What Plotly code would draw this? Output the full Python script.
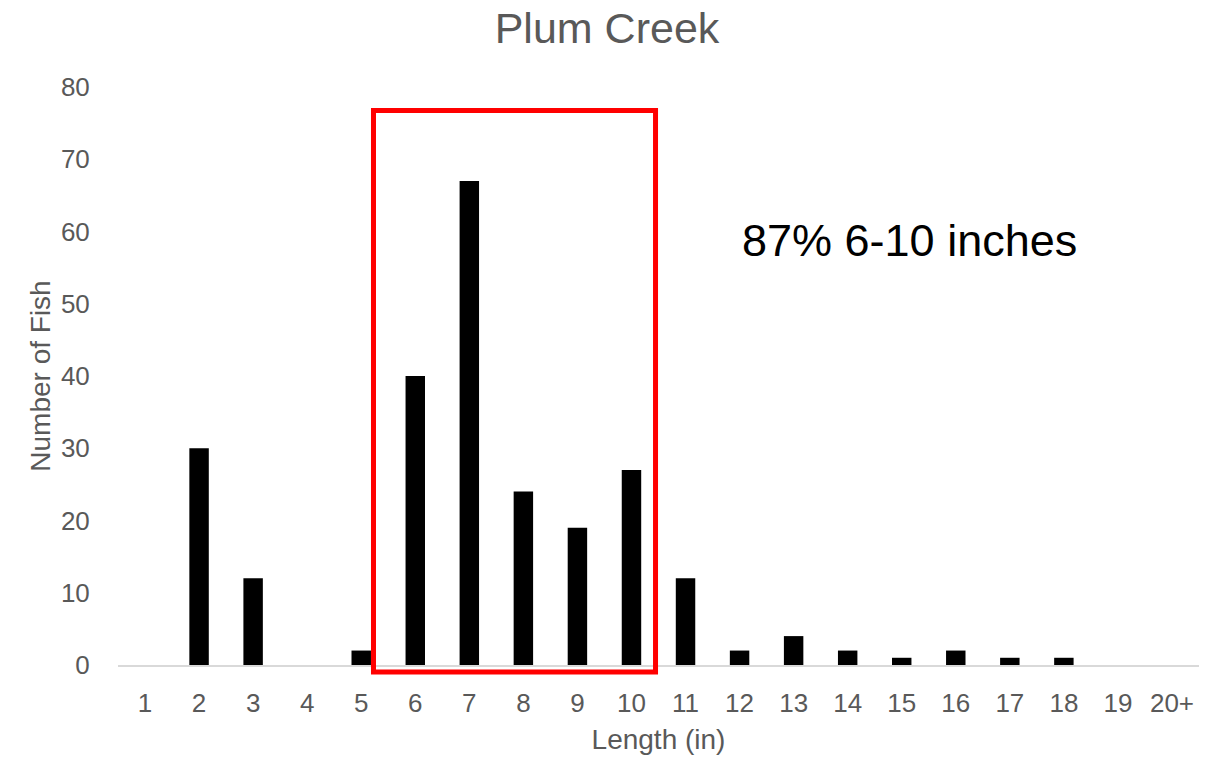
import plotly.graph_objects as go

# Length-frequency data for Plum Creek
lengths = ["1", "2", "3", "4", "5", "6", "7", "8", "9", "10",
           "11", "12", "13", "14", "15", "16", "17", "18", "19", "20+"]
fish_counts = [0, 30, 12, 0, 2, 40, 67, 24, 19, 27,
               12, 2, 4, 2, 1, 2, 1, 1, 0, 0]
y_ticks = [0, 10, 20, 30, 40, 50, 60, 70, 80]

GRAY = "#595959"
FONT = "Liberation Sans, Arial, sans-serif"

fig = go.Figure(
    go.Bar(
        x=lengths,
        y=fish_counts,
        marker=dict(color="black", line=dict(width=0)),
        hoverinfo="x+y",
    )
)

fig.update_layout(
    width=1214,
    height=757,
    margin=dict(l=118, r=15, t=87, b=92),
    paper_bgcolor="white",
    plot_bgcolor="white",
    bargap=0.64,
    showlegend=False,
    font=dict(family=FONT, color=GRAY, size=26),
    title=dict(
        text="Plum Creek",
        font=dict(family=FONT, size=43, color=GRAY),
        x=0.5,
        xref="container",
        xanchor="center",
        y=1 - 28 / 757,
        yanchor="middle",
    ),
    xaxis=dict(
        type="category",
        automargin=False,
        showline=True,
        linecolor="#d9d9d9",
        linewidth=1.5,
        showgrid=False,
        zeroline=False,
        ticks="outside",
        ticklen=14,
        tickcolor="rgba(0,0,0,0)",
        tickfont=dict(size=26, color=GRAY),
        title=dict(text="Length (in)", font=dict(size=28, color=GRAY), standoff=12),
    ),
    yaxis=dict(
        range=[0, 80],
        automargin=False,
        tickvals=y_ticks,
        showline=False,
        showgrid=False,
        zeroline=False,
        ticks="outside",
        ticklen=22,
        tickcolor="rgba(0,0,0,0)",
        tickfont=dict(size=26, color=GRAY),
        title=dict(text="Number of Fish", font=dict(size=28, color=GRAY), standoff=2),
    ),
)

# Red frame around the 6-10 inch size classes
fig.add_shape(
    type="rect",
    xref="x",
    yref="paper",
    x0=4.227,
    x1=9.445,
    y0=-0.0121,
    y1=0.9593,
    line=dict(color="#ff0000", width=5),
    fillcolor="rgba(0,0,0,0)",
    layer="above",
)

fig.add_annotation(
    text="87% 6-10 inches",
    xref="paper",
    yref="paper",
    x=0.575,
    y=0.7336,
    xanchor="left",
    yanchor="middle",
    showarrow=False,
    font=dict(family=FONT, size=45, color="black"),
)

fig.write_html("out.html")
